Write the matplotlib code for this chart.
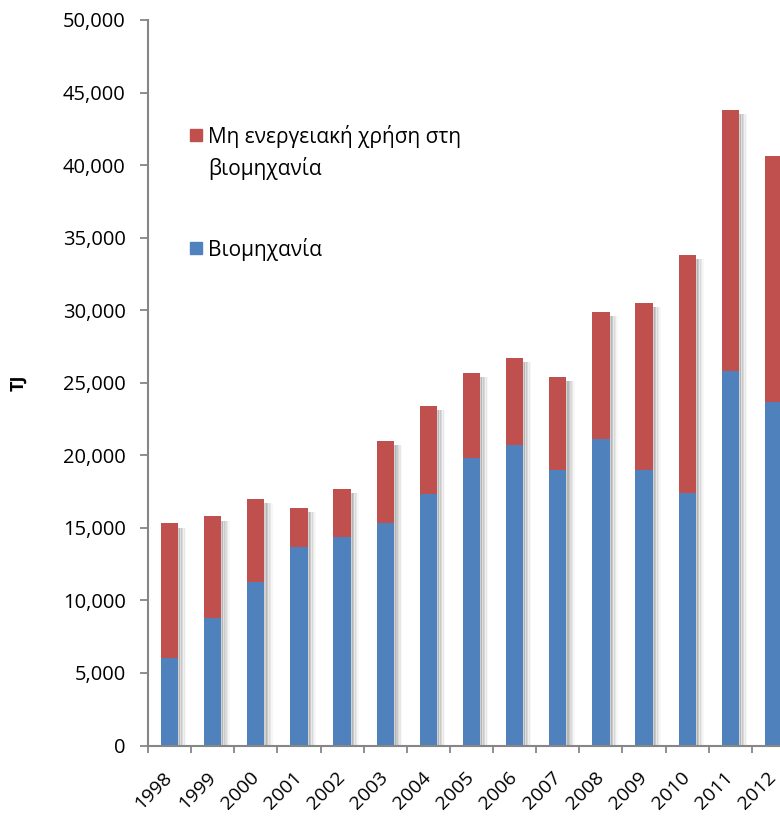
import matplotlib.pyplot as plt
import matplotlib.ticker as mticker
from matplotlib.patches import Rectangle
import numpy as np

plt.rcParams['font.family'] = ['Open Sans', 'DejaVu Sans']

years = ['1998', '1999', '2000', '2001', '2002', '2003', '2004', '2005',
         '2006', '2007', '2008', '2009', '2010', '2011', '2012']
# TJ
industry = [6000, 8800, 11300, 13700, 14400, 15300, 17300, 19800,
            20700, 19000, 21100, 19000, 17400, 25800, 23650]
total = [15300, 15800, 17000, 16400, 17700, 21000, 23400, 25700,
         26700, 25400, 29900, 30500, 33800, 43800, 40600]
non_energy = [t - b for t, b in zip(total, industry)]
lbl_industry = 'Βιομηχανία'
lbl_non_energy = 'Μη ενεργειακή χρήση στη\nβιομηχανία'

blue = '#4F81BD'
red = '#C0504D'
grey = '#868686'

fig = plt.figure(figsize=(7.8, 8.17), dpi=100)
# axes runs past the right edge of the picture, like the original
ax = fig.add_axes([148 / 780, 1 - 745.5 / 817, 647 / 780, 725.5 / 817])

x = np.arange(len(years))
w = 0.4

# soft drop shadow to the right of each bar
for k, a in enumerate([0.18, 0.13, 0.09, 0.06, 0.03]):
    ax.bar(x + w * 0.5 + 0.02 + k * 0.035, [t - 300 for t in total], width=0.06,
           color='black', alpha=a, linewidth=0, zorder=1)

ax.bar(x, industry, width=w, color=blue, zorder=2)
ax.bar(x, non_energy, width=w, bottom=industry, color=red, zorder=2)

ax.set_xlim(-0.5, len(years) - 0.5)
ax.set_ylim(0, 50000)
ax.yaxis.set_major_locator(mticker.MultipleLocator(5000))
ax.yaxis.set_major_formatter(mticker.StrMethodFormatter('{x:,.0f}'))

ax.set_xticks(x)
ax.set_xticklabels(years, rotation=45, ha='right', va='center', rotation_mode='anchor')
ax.set_xticks(np.arange(-0.5, len(years)), minor=True)
ax.tick_params(axis='x', which='major', length=0, pad=21, labelsize=14)
ax.tick_params(axis='x', which='minor', length=5, width=1.3, color=grey, direction='out')
ax.tick_params(axis='y', length=6, width=1.3, color=grey, direction='out', pad=10, labelsize=14.5)

for s in ['top', 'right']:
    ax.spines[s].set_visible(False)
for s in ['left', 'bottom']:
    ax.spines[s].set_color(grey)
    ax.spines[s].set_linewidth(1.5)

fig.text(18 / 780, 1 - 383 / 817, 'TJ', rotation=90, fontsize=13,
         fontweight='bold', ha='center', va='center')

# legend, drawn by hand so the marker sits by the first line
for col, ytop, txt in [(red, 129, lbl_non_energy), (blue, 242, lbl_industry)]:
    fig.patches.append(Rectangle((190 / 780, 1 - (ytop + 12) / 817), 12 / 780, 12 / 817,
                                 transform=fig.transFigure, color=col))
    fig.text(208 / 780, 1 - (ytop - 4) / 817, txt, fontsize=15, va='top', ha='left',
             linespacing=1.5)

fig.savefig('out.png', dpi=100)
